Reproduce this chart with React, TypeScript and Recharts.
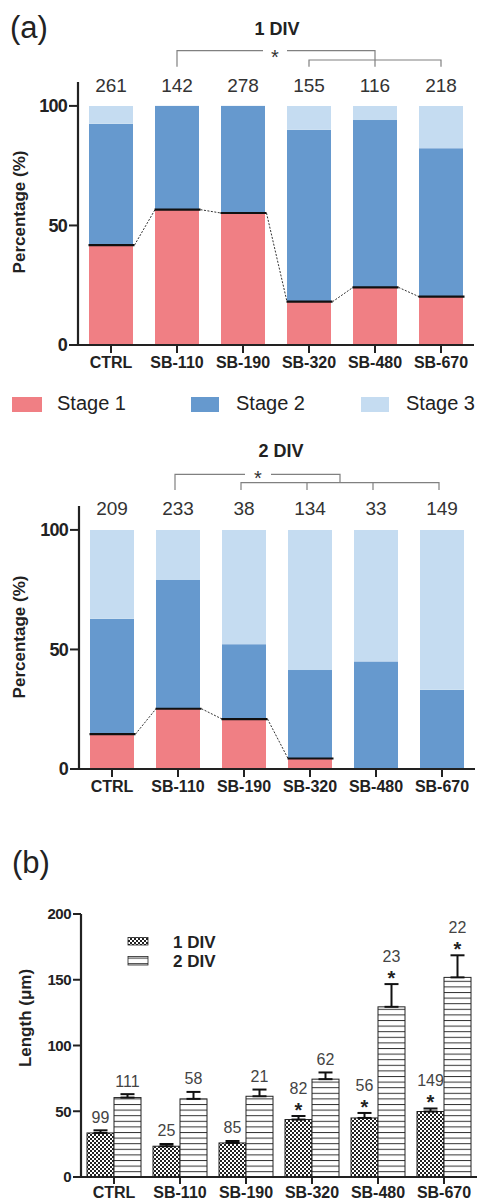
import React from 'react';
import { BarChart, Bar, XAxis, YAxis, ErrorBar } from 'recharts';

const FONT = '"Liberation Sans", Arial, Helvetica, sans-serif';

const categories = ['CTRL', 'SB-110', 'SB-190', 'SB-320', 'SB-480', 'SB-670'];

// (a) 1 DIV stage percentages
const div1Stage1 = [41.8, 56.6, 55.2, 18.1, 24.1, 20.2];
const div1Stage2 = [50.7, 43.4, 44.8, 71.9, 70.0, 62.1];
const div1Stage3 = [7.5, 0, 0, 10.0, 5.9, 17.7];
const div1Counts = [261, 142, 278, 155, 116, 218];

// (a) 2 DIV stage percentages
const div2Stage1 = [14.6, 25.2, 20.9, 4.4, 0, 0];
const div2Stage2 = [48.2, 53.9, 31.3, 37.0, 45.0, 33.1];
const div2Stage3 = [37.2, 20.9, 47.8, 58.6, 55.0, 66.9];
const div2Counts = [209, 233, 38, 134, 33, 149];

// (b) lengths (µm)
const len1 = [33.5, 23.4, 25.9, 43.7, 44.9, 49.8];
const err1 = [2.0, 1.7, 1.5, 2.7, 3.8, 2.3];
const n1 = [99, 25, 85, 82, 56, 149];
const sig1 = [false, false, false, true, true, true];
const len2 = [60.4, 59.4, 61.4, 74.4, 129.4, 151.8];
const err2 = [2.6, 5.3, 5.1, 5.1, 17.3, 16.8];
const n2 = [111, 58, 21, 62, 23, 22];
const sig2 = [false, false, false, false, true, true];

const stageTicks = [0, 50, 100];
const lengthTicks = [0, 50, 100, 150, 200];

const C1 = '#F07F84';
const C2 = '#6699CE';
const C3 = '#C5DCF1';
const AX = '#222';

type StageProps = {
  s1: number[]; s2: number[]; s3: number[]; counts: number[];
  height: number; marginTop: number; marginRight: number; yAxisWidth: number; countOffset: number;
};

function StageChart({ s1, s2, s3, counts, height, marginTop, marginRight, yAxisWidth, countOffset }: StageProps) {
  const data = categories.map((c, i) => ({ cat: c, s1: s1[i], s2: s2[i], s3: s3[i], n: counts[i] }));
  const plotW = 481 - yAxisWidth - marginRight;
  const step = plotW / categories.length;
  const midShape = (p: any) => {
    const { x, y, width, height: h, index } = p;
    const d = data[index];
    const ppu = h / d.s2;
    const s1Top = y + h;
    const base = s1Top + d.s1 * ppu;
    const y100 = y - d.s3 * ppu;
    const els: any[] = [<rect key="r" x={x} y={y} width={width} height={h} fill={C2} />];
    if (d.s1 > 0) {
      els.push(<line key="l" x1={x - 0.5} x2={x + width + 1.5} y1={s1Top} y2={s1Top} stroke="#111" strokeWidth={2.2} />);
      const nx = data[index + 1];
      if (nx && nx.s1 > 0) {
        els.push(
          <line key="c" x1={x + width + 1.5} y1={s1Top} x2={x + step} y2={base - nx.s1 * ppu}
            stroke="#333" strokeWidth={1} strokeDasharray="2 1.5" />
        );
      }
    }
    els.push(
      <text key="t" x={x + width / 2} y={y100 - countOffset} textAnchor="middle" fontSize={19}
        fontFamily={FONT} fill="#333">{d.n}</text>
    );
    return <g>{els}</g>;
  };
  return (
    <BarChart width={481} height={height} data={data}
      margin={{ top: marginTop, right: marginRight, bottom: 0, left: 0 }}>
      <XAxis dataKey="cat" height={27} interval={0} tickSize={8} tickMargin={4}
        axisLine={{ stroke: AX, strokeWidth: 2.2 }} tickLine={{ stroke: AX, strokeWidth: 2 }}
        tick={{ fontSize: 16, fontWeight: 'bold', fill: AX, fontFamily: FONT }} />
      <YAxis width={yAxisWidth} domain={[0, 110]} ticks={stageTicks} tickSize={9} tickMargin={2}
        axisLine={{ stroke: AX, strokeWidth: 2.2 }} tickLine={{ stroke: AX, strokeWidth: 2 }}
        tick={{ fontSize: 18, fontWeight: 'bold', fill: AX, fontFamily: FONT, letterSpacing: -0.8 }} />
      <Bar dataKey="s1" stackId="a" fill={C1} barSize={44} isAnimationActive={false} />
      <Bar dataKey="s2" stackId="a" fill={C2} barSize={44} isAnimationActive={false} shape={midShape} />
      <Bar dataKey="s3" stackId="a" fill={C3} barSize={44} isAnimationActive={false} />
    </BarChart>
  );
}

function LengthChart() {
  const data = categories.map((c, i) => ({
    cat: c, v1: len1[i], v2: len2[i], e1: [0, err1[i]], e2: [0, err2[i]],
  }));
  const mk = (vals: number[], errs: number[], ns: number[], sigs: boolean[], fill: string) => (p: any) => {
    const { x, y, width, height: h, index } = p;
    const ppu = h / vals[index];
    const errTop = y - errs[index] * ppu;
    const cx = x + width / 2;
    return (
      <g>
        <rect x={x} y={y} width={width} height={h} fill={fill} stroke="#222" strokeWidth={1} />
        {sigs[index] ? (
          <text x={cx} y={errTop + 1} textAnchor="middle" fontSize={20} fontWeight="bold" fontFamily={FONT} fill="#222">*</text>
        ) : null}
        <text x={cx} y={errTop - (sigs[index] ? 22 : 7.5)} textAnchor="middle" fontSize={16}
          fontFamily={FONT} fill="#444">{ns[index]}</text>
      </g>
    );
  };
  return (
    <BarChart width={481} height={323} data={data} barGap={0}
      margin={{ top: 34, right: 4, bottom: 0, left: 0 }}>
      <XAxis dataKey="cat" height={26} interval={0} tickSize={7} tickMargin={3}
        axisLine={{ stroke: AX, strokeWidth: 2.2 }} tickLine={{ stroke: AX, strokeWidth: 2 }}
        tick={{ fontSize: 16, fontWeight: 'bold', fill: AX, fontFamily: FONT }} />
      <YAxis width={81} domain={[0, 200]} ticks={lengthTicks} tickSize={8} tickMargin={2}
        axisLine={{ stroke: AX, strokeWidth: 2.2 }} tickLine={{ stroke: AX, strokeWidth: 2 }}
        tick={{ fontSize: 15, fontWeight: 'bold', fill: AX, fontFamily: FONT, letterSpacing: -0.5 }} />
      <Bar dataKey="v1" barSize={27} isAnimationActive={false} shape={mk(len1, err1, n1, sig1, 'url(#checker)')}>
        <ErrorBar dataKey="e1" direction="y" width={7} stroke="#111" strokeWidth={2} isAnimationActive={false} />
      </Bar>
      <Bar dataKey="v2" barSize={27} isAnimationActive={false} shape={mk(len2, err2, n2, sig2, 'url(#hstripe)')}>
        <ErrorBar dataKey="e2" direction="y" width={7} stroke="#111" strokeWidth={2} isAnimationActive={false} />
      </Bar>
    </BarChart>
  );
}

const cA = (i: number) => 78 + 33 + 66 * i;
const cB = (i: number) => 79 + 33 + 66 * i - 3;

function Overlay() {
  const txt = { fontFamily: FONT };
  const br = { stroke: '#808080', strokeWidth: 1.2, fill: 'none' };
  return (
    <svg width={481} height={1203} style={{ position: 'absolute', left: 0, top: 0, pointerEvents: 'none' }}>
      <text x={10} y={38} fontSize={31} fill="#222" {...txt}>(a)</text>
      <text x={277} y={35} fontSize={18} fontWeight="bold" textAnchor="middle" fill="#222" {...txt}>1 DIV</text>
      <path d={`M${cA(1)},66.7 V50.7 H263 M287,50.7 H${cA(4)} V66.7`} {...br} />
      <path d={`M${cA(3)},66.7 V60 H${cA(5)} V66.7`} {...br} />
      <text x={275} y={64} fontSize={20} textAnchor="middle" fill="#333" {...txt}>*</text>
      <text transform="rotate(-90, 19.5, 212)" x={19.5} y={212} textAnchor="middle" dominantBaseline="central"
        fontSize={17} fontWeight="bold" fill="#222" {...txt}>Percentage (%)</text>

      <rect x={12} y={397} width={30} height={15} fill={C1} />
      <text x={57} y={410} fontSize={20} fill="#222" {...txt}>Stage 1</text>
      <rect x={191} y={397} width={28} height={15} fill={C2} />
      <text x={236} y={410} fontSize={20} fill="#222" {...txt}>Stage 2</text>
      <rect x={361} y={397} width={28} height={15} fill={C3} />
      <text x={406} y={410} fontSize={20} fill="#222" {...txt}>Stage 3</text>

      <text x={281} y={457} fontSize={18} fontWeight="bold" textAnchor="middle" fill="#222" {...txt}>2 DIV</text>
      <path d={`M${cB(1)},490 V474.3 H245 M271,474.3 H${(cB(2) + cB(5)) / 2} V482.7`} {...br} />
      <path d={`M${cB(2)},490 V482.7 H${cB(5)} V490 M${cB(3)},482.7 V490 M${cB(4)},482.7 V490`} {...br} />
      <text x={258} y={485} fontSize={20} textAnchor="middle" fill="#333" {...txt}>*</text>
      <text transform="rotate(-90, 19.5, 637)" x={19.5} y={637} textAnchor="middle" dominantBaseline="central"
        fontSize={17} fontWeight="bold" fill="#222" {...txt}>Percentage (%)</text>

      <text x={12} y={873} fontSize={31} fill="#222" {...txt}>(b)</text>
      <text transform="rotate(-90, 25, 1018)" x={25} y={1018} textAnchor="middle" dominantBaseline="central"
        fontSize={17} fontWeight="bold" fill="#222" {...txt}>Length (μm)</text>
      <rect x={128} y={937.5} width={20} height={7.5} fill="url(#checker)" stroke="#222" strokeWidth={0.8} />
      <text x={173} y={948} fontSize={17} fontWeight="bold" fill="#222" {...txt}>1 DIV</text>
      <rect x={128} y={956.5} width={20} height={8.5} fill="url(#hstripe)" stroke="#222" strokeWidth={0.8} />
      <text x={173} y={967} fontSize={17} fontWeight="bold" fill="#222" {...txt}>2 DIV</text>
    </svg>
  );
}

export default function App() {
  return (
    <div style={{ position: 'absolute', left: 0, top: 0, width: 481, height: 1203, background: '#fff', fontFamily: FONT }}>
      <svg width={0} height={0} style={{ position: 'absolute' }}>
        <defs>
          <pattern id="checker" patternUnits="userSpaceOnUse" width={4} height={4}>
            <rect x={0} y={0} width={4} height={4} fill="#fff" />
            <rect x={0} y={0} width={2} height={2} fill="#222" />
            <rect x={2} y={2} width={2} height={2} fill="#222" />
          </pattern>
          <pattern id="hstripe" patternUnits="userSpaceOnUse" width={10} height={5.6}>
            <rect x={0} y={0} width={10} height={5.6} fill="#fff" />
            <line x1={0} x2={10} y1={0.5} y2={0.5} stroke="#333" strokeWidth={1} />
          </pattern>
        </defs>
      </svg>
      <div style={{ position: 'absolute', left: 0, top: 0 }}>
        <StageChart s1={div1Stage1} s2={div1Stage2} s3={div1Stage3} counts={div1Counts}
          height={372} marginTop={82} marginRight={7} yAxisWidth={78} countOffset={14} />
      </div>
      <div style={{ position: 'absolute', left: 0, top: 480 }}>
        <StageChart s1={div2Stage1} s2={div2Stage2} s3={div2Stage3} counts={div2Counts}
          height={316} marginTop={26} marginRight={6} yAxisWidth={79} countOffset={15} />
      </div>
      <div style={{ position: 'absolute', left: 0, top: 880 }}>
        <LengthChart />
      </div>
      <Overlay />
    </div>
  );
}
